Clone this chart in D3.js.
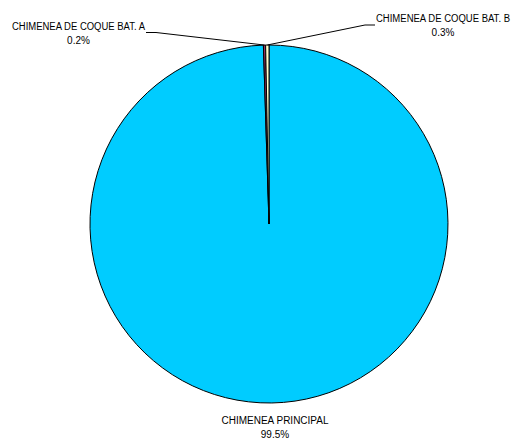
<!DOCTYPE html>
<html><head><meta charset="utf-8">
<script src="https://cdn.jsdelivr.net/npm/d3@7"></script>
<style>body{margin:0;background:#fff}svg{display:block}text{font-family:"Liberation Sans",Arial,sans-serif;font-size:10px;fill:#000}</style>
</head><body>
<script>
const categories = ["CHIMENEA PRINCIPAL", "CHIMENEA DE COQUE BAT. A", "CHIMENEA DE COQUE BAT. B"];
const values = [99.5, 0.2, 0.3];
const pctLabels = ["99.5%", "0.2%", "0.3%"];
const colors = ["#00CCFF", "#993366", "#FFFFCC"];

const W = 511, H = 438;
const svg = d3.select("body").append("svg").attr("width", W).attr("height", H);
const cx = 269, cy = 224, R = 179;
const data = categories.map((c, i) => ({cat: c, v: values[i], pct: pctLabels[i], col: colors[i]}));
const pie = d3.pie().value(d => d.v).sort(null).startAngle(0).endAngle(2 * Math.PI);
const arcs = pie(data);
const arc = d3.arc().innerRadius(0).outerRadius(R);
const g = svg.append("g").attr("transform", `translate(${cx},${cy})`);
g.selectAll("path").data(arcs).enter().append("path")
  .attr("d", arc).attr("fill", d => d.data.col)
  .attr("stroke", "#000").attr("stroke-width", 1).attr("stroke-linejoin", "round");

// label layout
const labelPos = [
  {x: 275, y: 424, w: 107, line: null},
  {x: 78.5, y: 29.5, w: 133, line: [[146, 32.5], [156, 32.5]]},
  {x: 443, y: 22, w: 134, line: [[375, 25], [365, 25]]}
];
arcs.forEach((a, i) => {
  const p = labelPos[i];
  const t = svg.append("text").attr("x", p.x).attr("y", p.y).attr("text-anchor", "middle");
  t.append("tspan").attr("x", p.x).attr("textLength", p.w).attr("lengthAdjust", "spacingAndGlyphs").text(a.data.cat);
  t.append("tspan").attr("x", p.x).attr("dy", 14).text(a.data.pct);
  if (p.line) {
    const mid = (a.startAngle + a.endAngle) / 2;
    const ex = cx + Math.sin(mid) * R, ey = cy - Math.cos(mid) * R;
    svg.append("path").attr("fill", "none").attr("stroke", "#000").attr("stroke-width", 1)
      .attr("d", d3.line()([p.line[0], p.line[1], [ex, ey]]));
  }
});
</script>
</body></html>
